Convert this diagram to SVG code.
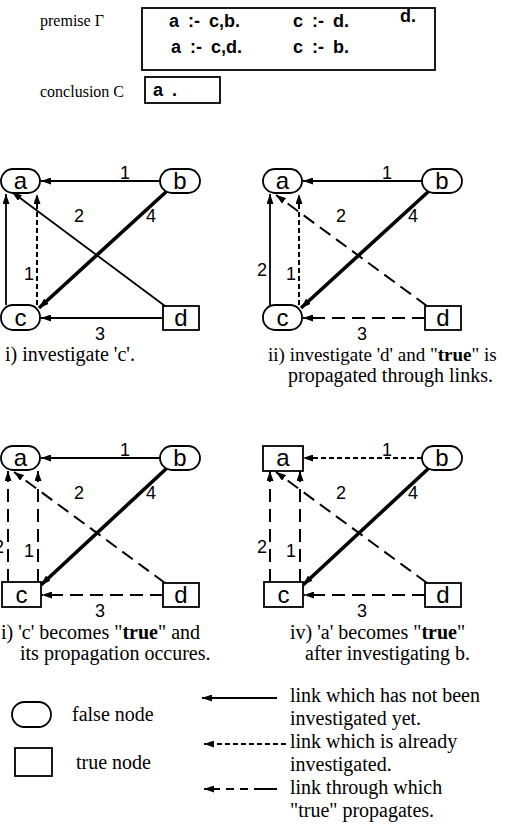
<svg xmlns="http://www.w3.org/2000/svg" width="519" height="824" viewBox="0 0 519 824">
<style>
.serif{font-family:"Liberation Serif","Times New Roman",serif;font-size:16px;fill:#000}
.cap{font-size:20px}
.cap19{font-size:19px}
.leg{font-size:20px}
.sans{font-family:"Liberation Sans",Arial,sans-serif;fill:#000}
.rule{font-size:18px;font-weight:bold;word-spacing:4px}
.node{font-size:24px}
.lbl{font-size:18px}
.shape{fill:#fff;stroke:#000;stroke-width:1.8}
.e{fill:none;stroke:#000;stroke-width:1.8}
.thick{stroke-width:3.6}
.inv{stroke-dasharray:5 3;stroke-width:2}
.prop{stroke-dasharray:13 7;stroke-width:2}
</style>
<defs>
<marker id="ah" viewBox="0 0 10 7" refX="10" refY="3.5" markerWidth="10" markerHeight="7" markerUnits="userSpaceOnUse" orient="auto">
<path d="M0,0 L10,3.5 L0,7 z" fill="#000"/>
</marker>
</defs>

<g id="premise">
<text class="serif" x="40" y="26">premise Γ</text>
<rect x="142" y="8" width="293" height="62" fill="none" stroke="#000" stroke-width="1.8"/>
<text class="sans rule" x="169" y="27">a :- c,b.</text>
<text class="sans rule" x="293" y="27">c :- d.</text>
<text class="sans rule" x="400" y="22">d.</text>
<text class="sans rule" x="171" y="53">a :- c,d.</text>
<text class="sans rule" x="293" y="53">c :- b.</text>
</g>
<g id="conclusion">
<text class="serif" x="40" y="97">conclusion C</text>
<rect x="145" y="77" width="75" height="26" fill="none" stroke="#000" stroke-width="1.8"/>
<text class="sans rule" x="153" y="96">a .</text>
</g>

<!-- Panel i -->
<g id="panel1">
<g id="p1-edges">
<line class="e" x1="160" y1="181" x2="41" y2="181" marker-end="url(#ah)"/>
<line class="e" x1="6" y1="305" x2="6" y2="194" marker-end="url(#ah)"/>
<line class="e inv" x1="37" y1="305" x2="37" y2="194" marker-end="url(#ah)"/>
<line class="e" x1="165" y1="306" x2="12" y2="192" marker-end="url(#ah)"/>
<line class="e thick" x1="167" y1="191" x2="39" y2="308" marker-end="url(#ah)"/>
<line class="e" x1="163" y1="318" x2="41" y2="318" marker-end="url(#ah)"/>
<text class="sans lbl" x="120" y="179">1</text>
<text class="sans lbl" x="24" y="280">1</text>
<text class="sans lbl" x="74" y="222">2</text>
<text class="sans lbl" x="146" y="222">4</text>
<text class="sans lbl" x="95" y="340">3</text>
</g>
<g id="p1-a"><rect class="shape" x="1" y="169" width="39" height="24" rx="12"/><text class="sans node" x="20.5" y="189" text-anchor="middle">a</text></g>
<g id="p1-b"><rect class="shape" x="160" y="169" width="40" height="24" rx="12"/><text class="sans node" x="180" y="189" text-anchor="middle">b</text></g>
<g id="p1-c"><rect class="shape" x="1" y="305" width="39" height="25" rx="12"/><text class="sans node" x="20.5" y="326" text-anchor="middle">c</text></g>
<g id="p1-d"><rect class="shape" x="163" y="306" width="36" height="24"/><text class="sans node" x="181" y="326" text-anchor="middle">d</text></g>
<text class="serif cap" x="5" y="361">i) investigate 'c'.</text>
</g>

<!-- Panel ii -->
<g id="panel2" transform="translate(262,0)">
<g id="p2-edges">
<line class="e" x1="160" y1="181" x2="41" y2="181" marker-end="url(#ah)"/>
<line class="e" x1="8" y1="305" x2="8" y2="194" marker-end="url(#ah)"/>
<line class="e inv" x1="37" y1="305" x2="37" y2="194" marker-end="url(#ah)"/>
<line class="e prop" x1="165" y1="306" x2="14" y2="195" marker-end="url(#ah)"/>
<line class="e thick" x1="167" y1="191" x2="39" y2="308" marker-end="url(#ah)"/>
<line class="e prop" x1="163" y1="318" x2="41" y2="318" marker-end="url(#ah)"/>
<text class="sans lbl" x="120" y="179">1</text>
<text class="sans lbl" x="-5" y="276">2</text>
<text class="sans lbl" x="24" y="280">1</text>
<text class="sans lbl" x="74" y="222">2</text>
<text class="sans lbl" x="146" y="222">4</text>
<text class="sans lbl" x="95" y="340">3</text>
</g>
<g id="p2-a"><rect class="shape" x="1" y="169" width="39" height="24" rx="12"/><text class="sans node" x="20.5" y="189" text-anchor="middle">a</text></g>
<g id="p2-b"><rect class="shape" x="160" y="169" width="40" height="24" rx="12"/><text class="sans node" x="180" y="189" text-anchor="middle">b</text></g>
<g id="p2-c"><rect class="shape" x="1" y="305" width="39" height="25" rx="12"/><text class="sans node" x="20.5" y="326" text-anchor="middle">c</text></g>
<g id="p2-d"><rect class="shape" x="163" y="306" width="36" height="24"/><text class="sans node" x="181" y="326" text-anchor="middle">d</text></g>
<text class="serif cap19" x="6" y="361">ii) investigate 'd' and "<tspan font-weight="bold">true</tspan>" is</text>
<text class="serif cap" x="26" y="382">propagated through links.</text>
</g>

<!-- Panel iii -->
<g id="panel3" transform="translate(0,277)">
<g id="p3-edges">
<line class="e" x1="160" y1="181" x2="41" y2="181" marker-end="url(#ah)"/>
<line class="e prop" x1="8" y1="305" x2="8" y2="194" marker-end="url(#ah)"/>
<line class="e prop" x1="38" y1="305" x2="38" y2="194" marker-end="url(#ah)"/>
<line class="e prop" x1="165" y1="306" x2="14" y2="195" marker-end="url(#ah)"/>
<line class="e thick" x1="167" y1="191" x2="41" y2="308" marker-end="url(#ah)"/>
<line class="e prop" x1="163" y1="318" x2="42" y2="318" marker-end="url(#ah)"/>
<text class="sans lbl" x="120" y="179">1</text>
<text class="sans lbl" x="-6" y="276">2</text>
<text class="sans lbl" x="24" y="280">1</text>
<text class="sans lbl" x="74" y="222">2</text>
<text class="sans lbl" x="146" y="222">4</text>
<text class="sans lbl" x="95" y="340">3</text>
</g>
<g id="p3-a"><rect class="shape" x="1" y="169" width="39" height="24" rx="12"/><text class="sans node" x="20.5" y="189" text-anchor="middle">a</text></g>
<g id="p3-b"><rect class="shape" x="160" y="169" width="40" height="24" rx="12"/><text class="sans node" x="180" y="189" text-anchor="middle">b</text></g>
<g id="p3-c"><rect class="shape" x="2" y="305" width="39" height="25"/><text class="sans node" x="21.5" y="326" text-anchor="middle">c</text></g>
<g id="p3-d"><rect class="shape" x="163" y="306" width="36" height="24"/><text class="sans node" x="181" y="326" text-anchor="middle">d</text></g>
<text class="serif cap" x="1" y="362">i) 'c' becomes "<tspan font-weight="bold">true</tspan>" and</text>
<text class="serif cap" x="20" y="383">its propagation occures.</text>
</g>

<!-- Panel iv -->
<g id="panel4" transform="translate(262,277)">
<g id="p4-edges">
<line class="e inv" x1="160" y1="181" x2="41" y2="181" marker-end="url(#ah)"/>
<line class="e prop" x1="8" y1="305" x2="8" y2="194" marker-end="url(#ah)"/>
<line class="e prop" x1="38" y1="305" x2="38" y2="194" marker-end="url(#ah)"/>
<line class="e prop" x1="165" y1="306" x2="14" y2="195" marker-end="url(#ah)"/>
<line class="e thick" x1="167" y1="191" x2="41" y2="308" marker-end="url(#ah)"/>
<line class="e prop" x1="163" y1="318" x2="42" y2="318" marker-end="url(#ah)"/>
<text class="sans lbl" x="120" y="179">1</text>
<text class="sans lbl" x="-5" y="276">2</text>
<text class="sans lbl" x="24" y="280">1</text>
<text class="sans lbl" x="74" y="222">2</text>
<text class="sans lbl" x="146" y="222">4</text>
<text class="sans lbl" x="95" y="340">3</text>
</g>
<g id="p4-a"><rect class="shape" x="1" y="169" width="40" height="25"/><text class="sans node" x="21" y="189" text-anchor="middle">a</text></g>
<g id="p4-b"><rect class="shape" x="160" y="169" width="40" height="24" rx="12"/><text class="sans node" x="180" y="189" text-anchor="middle">b</text></g>
<g id="p4-c"><rect class="shape" x="2" y="305" width="39" height="25"/><text class="sans node" x="21.5" y="326" text-anchor="middle">c</text></g>
<g id="p4-d"><rect class="shape" x="163" y="306" width="36" height="24"/><text class="sans node" x="181" y="326" text-anchor="middle">d</text></g>
<text class="serif cap" x="28" y="362">iv) 'a' becomes "<tspan font-weight="bold">true</tspan>"</text>
<text class="serif cap" x="43" y="383">after investigating b.</text>
</g>

<!-- Legend -->
<g id="legend">
<g id="legend-false"><rect class="shape" x="12" y="702" width="39" height="25" rx="12.5"/><text class="serif leg" x="72" y="721">false node</text></g>
<g id="legend-true"><rect class="shape" x="15" y="748" width="37" height="28"/><text class="serif leg" x="76" y="769">true node</text></g>
<g id="legend-links">
<line class="e" x1="277" y1="698" x2="202" y2="698" marker-end="url(#ah)"/>
<text class="serif leg" x="290" y="702">link which has not been</text>
<text class="serif leg" x="290" y="725">investigated yet.</text>
<line class="e inv" x1="286" y1="744" x2="204" y2="744" marker-end="url(#ah)"/>
<text class="serif leg" x="290" y="748">link which is already</text>
<text class="serif leg" x="290" y="771">investigated.</text>
<path class="e" d="M277,789 H254 M248,789 H240 M234,789 H226 M220,789 H205"/>
<line class="e" x1="212" y1="789" x2="204" y2="789" marker-end="url(#ah)"/>
<text class="serif leg" x="290" y="794">link through which</text>
<text class="serif leg" x="290" y="817">"true" propagates.</text>
</g>
</g>
</svg>
